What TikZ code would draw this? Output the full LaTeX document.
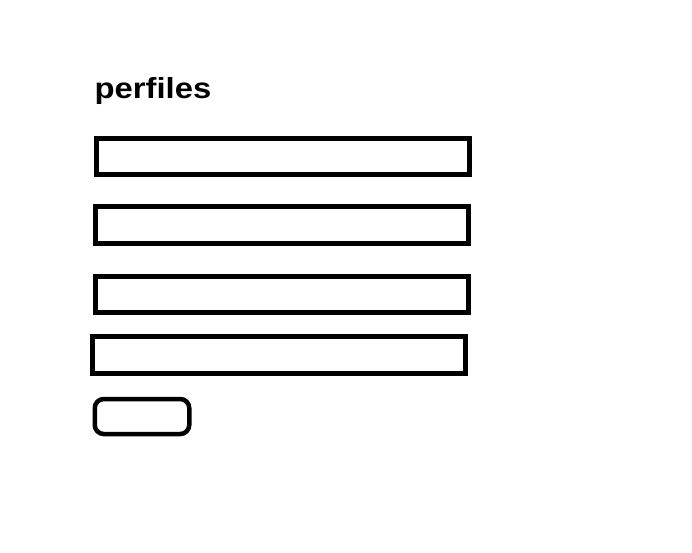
\documentclass[tikz,border=0pt]{standalone}
\usepackage{fontspec}
\setmainfont{Liberation Sans}
\begin{document}
\begin{tikzpicture}[x=1pt,y=-1pt,
  field/.style={draw=black,line width=5pt,inner sep=0pt,outer sep=0pt,minimum height=36.5pt},
  button/.style={draw=black,line width=4.5pt,inner sep=0pt,outer sep=0pt,rounded corners=9pt}]
\useasboundingbox[fill=white] (0,0) rectangle (692,552);
\node[anchor=base west,inner sep=0pt] (title) at (94.5,98.5) {\scalebox{1.13}[1]{\fontsize{29pt}{34pt}\selectfont\bfseries perfiles}};
\node[field,minimum width=373pt] (f1) at (283,156.25) {};
\node[field,minimum width=372.5pt] (f2) at (281.75,224.75) {};
\node[field,minimum width=372.5pt,minimum height=36pt] (f3) at (281.75,294) {};
\node[field,minimum width=373pt] (f4) at (279,354.75) {};
\node[button,minimum width=94.5pt,minimum height=35pt] (b) at (142,416.5) {};
\end{tikzpicture}
\end{document}
